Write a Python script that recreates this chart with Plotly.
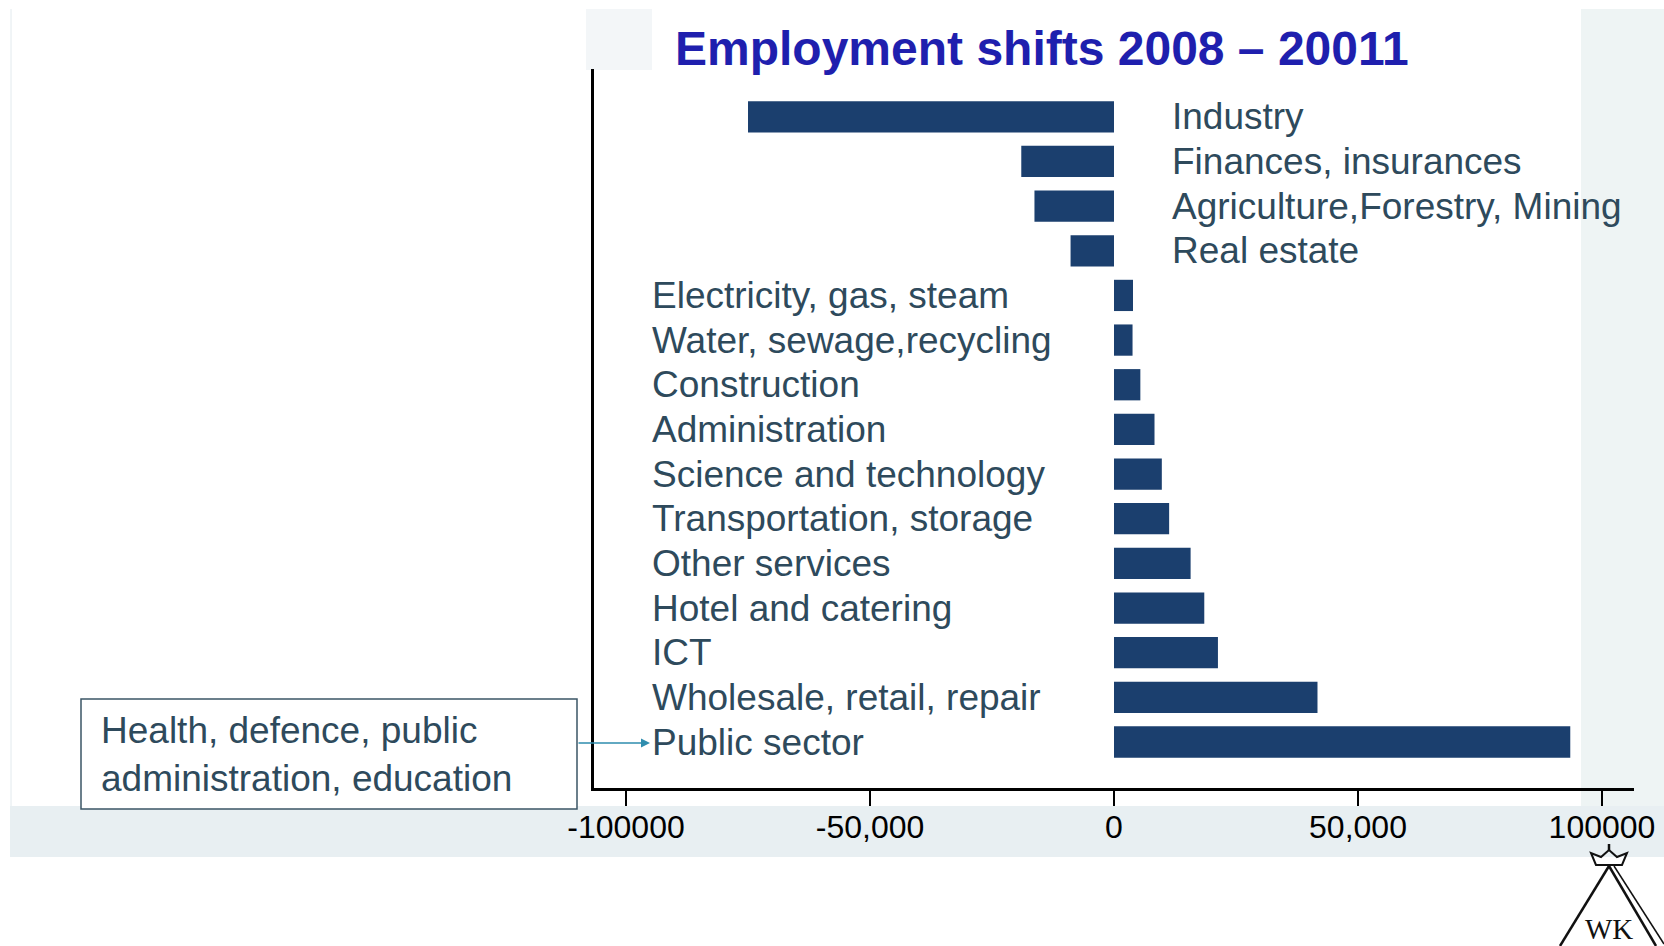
import plotly.graph_objects as go

# ---- data ----
categories = [
    "Industry", "Finances, insurances", "Agriculture,Forestry, Mining", "Real estate",
    "Electricity, gas, steam", "Water, sewage,recycling", "Construction", "Administration",
    "Science and technology", "Transportation, storage", "Other services",
    "Hotel and catering", "ICT", "Wholesale, retail, repair", "Public sector",
]
values = [-75000, -19000, -16300, -8900, 3900, 3800, 5400, 8300, 9800, 11300,
          15700, 18500, 21300, 41700, 93500]
tick_vals = [-100000, -50000, 0, 50000, 100000]
tick_text = ["-100000", "-50,000", "0", "50,000", "100000"]
title_text = "Employment shifts 2008 – 20011"
box_text = "Health, defence, public<br>administration, education"

W, H = 1664, 946
def px(x):
    return x / W
def py(y):
    return 1 - y / H

LABEL_COLOR = "#2E4A5C"
BAR_COLOR = "#1B3F6E"
FONT = "Liberation Sans, Arial, sans-serif"

fig = go.Figure()
fig.add_trace(go.Bar(
    x=values, y=categories, orientation="h",
    marker=dict(color=BAR_COLOR, line=dict(width=0)),
    width=0.7, hoverinfo="x+y",
))

annotations = []
for cat, v in zip(categories, values):
    ax_pos = 11500 if v < 0 else -95000
    annotations.append(dict(x=ax_pos, y=cat, xref="x", yref="y", text=cat,
                            showarrow=False, xanchor="left", yanchor="middle",
                            font=dict(family=FONT, size=37, color=LABEL_COLOR)))

# title
annotations.append(dict(x=px(673), y=py(48), xref="paper", yref="paper",
                        text="<b>" + title_text + "</b>", showarrow=False,
                        xanchor="left", yanchor="middle",
                        font=dict(family=FONT, size=48, color="#1F1FAE")))
# callout box text
annotations.append(dict(x=px(99), y=py(754), xref="paper", yref="paper",
                        text=box_text, showarrow=False, align="left",
                        xanchor="left", yanchor="middle",
                        font=dict(family=FONT, size=37, color=LABEL_COLOR)))
# arrow
annotations.append(dict(x=px(650), y=py(743), xref="paper", yref="paper",
                        ax=-73, ay=0, text="", showarrow=True,
                        arrowhead=2, arrowsize=1.2, arrowwidth=1.5,
                        arrowcolor="#2F8DAE"))
# logo text
annotations.append(dict(x=px(1609), y=py(929), xref="paper", yref="paper",
                        text="WK", showarrow=False, xanchor="center", yanchor="middle",
                        font=dict(family="Liberation Serif, serif", size=29, color="#111111")))

def pth(points, close=False):
    s = "M " + " L ".join(f"{px(x):.5f},{py(y):.5f}" for x, y in points)
    return s + (" Z" if close else "")

shapes = [
    # background bits
    dict(type="rect", xref="paper", yref="paper", x0=px(10), x1=px(1664), y0=py(857), y1=py(806),
         fillcolor="#E8EFF2", line=dict(width=0), layer="below"),
    dict(type="rect", xref="paper", yref="paper", x0=px(1581), x1=px(1664), y0=py(806), y1=py(9),
         fillcolor="#EEF4F4", line=dict(width=0), layer="below"),
    dict(type="rect", xref="paper", yref="paper", x0=px(586), x1=px(652), y0=py(70), y1=py(9),
         fillcolor="#F3F6F8", line=dict(width=0), layer="below"),
    dict(type="line", xref="paper", yref="paper", x0=px(11), x1=px(11), y0=py(806), y1=py(9),
         line=dict(color="#E2EAEE", width=1), layer="below"),
    # callout box
    dict(type="rect", xref="paper", yref="paper", x0=px(81), x1=px(577), y0=py(809), y1=py(699),
         fillcolor="white", line=dict(color="#3B5566", width=1.5)),
    # logo "A"
    dict(type="line", xref="paper", yref="paper", x0=px(1609), y0=py(866), x1=px(1560), y1=py(946),
         line=dict(color="#111111", width=2.5)),
    dict(type="line", xref="paper", yref="paper", x0=px(1609), y0=py(866), x1=px(1656), y1=py(946),
         line=dict(color="#111111", width=2.5)),
    dict(type="line", xref="paper", yref="paper", x0=px(1614), y0=py(866), x1=px(1664), y1=py(944),
         line=dict(color="#111111", width=1.5)),
    # crown
    dict(type="path", xref="paper", yref="paper",
         path=pth([(1596, 865), (1591, 853), (1601, 857), (1609, 850), (1617, 857),
                   (1627, 853), (1622, 865)], close=True),
         line=dict(color="#111111", width=2)),
    dict(type="line", xref="paper", yref="paper", x0=px(1609), y0=py(844), x1=px(1609), y1=py(850),
         line=dict(color="#111111", width=2.5)),
]

fig.update_layout(
    width=W, height=H,
    margin=dict(l=0, r=0, t=0, b=0, pad=0, autoexpand=False),
    paper_bgcolor="white", plot_bgcolor="rgba(0,0,0,0)",
    showlegend=False,
    annotations=annotations, shapes=shapes,
    xaxis=dict(domain=[px(594), px(1634)], range=[-106560, 106560],
               tickvals=tick_vals, ticktext=tick_text, automargin=False,
               showline=True, linecolor="black", linewidth=3,
               ticks="outside", ticklen=15, tickwidth=2, tickcolor="black",
               ticklabelstandoff=-6,
               showgrid=False, zeroline=False,
               tickfont=dict(family=FONT, size=32, color="black")),
    yaxis=dict(domain=[py(788), py(69)], categoryorder="array", categoryarray=categories,
               range=[15.03, -1.07], showticklabels=False, automargin=False,
               showline=True, linecolor="black", linewidth=3,
               ticks="", showgrid=False, zeroline=False),
)

fig.write_html("out.html")
